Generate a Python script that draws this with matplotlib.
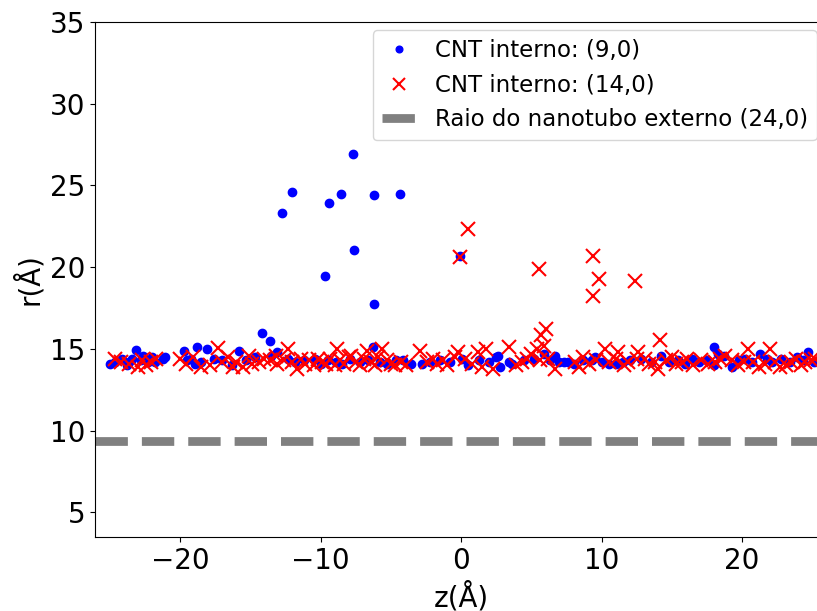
import matplotlib
matplotlib.use("Agg")
import matplotlib.pyplot as plt

# CNT interno (9,0)
z_9 = [-7.67, -12.03, -8.56, -6.19, -4.36, -9.37, -12.76, -7.59, -9.66, -6.19, -0.07,
       -14.2, -13.6, -6.3,
       -25.0, -24.6, -24.15, -23.8, -23.6, -23.4, -23.1, -22.8, -22.6, -22.3, -22.0,
       -21.8, -21.2, -21.1, -19.7, -19.5, -19.2, -18.9, -18.8, -18.5, -18.1, -17.6,
       -17.0, -16.3, -15.8, -15.3, -14.7, -13.5, -13.1, -12.3, -11.8, -11.2, -10.4,
       -10.0, -9.5, -8.9, -8.5, -7.9, -7.2, -6.6, -5.8, -5.3, -4.6, -4.1, -3.6, -2.8,
       -2.2, -1.5, -0.8, 0.1, 0.5, 1.3, 2.0, 2.5, 2.6, 2.8, 3.4, 3.6, 4.5, 5.2, 5.9,
       6.3, 6.7, 7.0, 7.3, 7.6, 8.0, 8.7, 9.3, 9.5, 10.0, 10.5, 11.0, 11.55, 12.0,
       12.8, 13.5, 14.2, 14.8, 15.4, 15.9, 16.4, 16.9, 17.5, 18.0, 18.3, 18.0, 18.7,
       19.3, 19.8, 20.2, 20.7, 21.3, 21.75, 22.1, 22.8, 23.4, 23.9, 24.3, 24.7, 25.1]
r_9 = [26.9, 24.57, 24.49, 24.41, 24.47, 23.93, 23.32, 21.06, 19.47, 17.77, 20.67,
       15.95, 15.47, 15.12,
       14.1, 14.2, 14.4, 14.0, 14.2, 14.4, 14.91, 14.3, 14.6, 14.2, 14.5,
       14.2, 14.36, 14.5, 14.87, 14.3, 14.4, 14.1, 15.12, 14.2, 14.98, 14.4,
       14.3, 14.0, 14.87, 14.3, 14.5, 14.6, 14.8, 14.4, 14.2, 14.3, 14.4,
       14.1, 14.3, 14.2, 14.1, 14.4, 14.2, 14.3, 14.2, 14.1, 14.3, 14.3, 14.1, 14.1,
       14.2, 14.3, 14.2, 14.4, 14.0, 14.3, 14.2, 14.5, 14.6, 13.9, 14.2, 14.1, 14.3, 14.4, 14.7,
       14.3, 14.6, 14.2, 14.2, 14.2, 14.1, 14.3, 14.3, 14.5, 14.2, 14.1, 14.1, 14.2, 14.3,
       14.4, 14.2, 14.6, 14.2, 14.3, 14.1, 14.4, 14.2, 14.3, 15.1, 14.7, 14.0, 14.6,
       13.9, 14.3, 14.4, 14.2, 14.7, 14.4, 14.2, 14.4, 14.2, 14.5, 14.3, 14.8, 14.2]

# CNT interno (14,0)
z_14 = [0.52, -0.07, 9.42, 5.53, 9.78, 12.38, 9.42, 6.03, 5.67, 14.16,
        -24.6, -24.2, -23.6, -23.0, -22.7, -22.4, -22.1, -21.7, -20.0, -19.6, -19.05,
        -18.5, -17.9, -17.3, -17.0, -16.6, -16.2, -16.0, -15.5, -15.1, -14.9, -14.4,
        -14.0, -13.6, -13.2, -13.1, -12.6, -12.3, -12.0, -11.7, -11.4, -11.1, -10.8,
        -10.5, -10.2, -9.9, -9.6, -9.3, -9.0, -8.85, -8.6, -8.3, -8.0, -7.8, -7.5,
        -7.2, -6.9, -6.7, -6.4, -6.1, -5.9, -5.6, -5.3, -5.0, -4.7, -4.3, -3.9, -2.9,
        -2.4, -2.0, -1.7, -1.3, -1.0, -0.4, -0.2, 0.3, 0.8, 1.2, 1.5, 1.8, 2.3, 3.4,
        3.9, 4.3, 4.7, 5.0, 5.4, 5.6, 5.9, 6.2, 6.7, 8.1, 8.4, 8.7, 9.1, 9.6, 10.25,
        10.5, 11.0, 11.2, 11.6, 11.9, 12.5, 12.6, 13.1, 13.4, 13.8, 14.0, 14.6, 15.0,
        15.3, 15.7, 16.1, 16.5, 17.1, 17.6, 18.1, 18.4, 18.8, 19.3, 19.7, 20.1, 20.45,
        20.8, 21.2, 21.6, 22.0, 22.35, 22.7, 23.1, 23.5, 23.8, 24.2, 24.5, 24.9, 25.2]
r_14 = [22.32, 20.63, 20.71, 19.88, 19.3, 19.16, 18.24, 16.2, 15.83, 15.53,
        14.4, 14.2, 14.1, 13.9, 14.3, 14.0, 14.2, 14.4, 14.4, 14.1, 14.5,
        13.9, 14.0, 15.06, 14.2, 14.5, 13.9, 14.2, 13.9, 14.6, 14.1, 14.2,
        14.4, 14.3, 14.6, 14.1, 14.3, 15.0, 14.2, 13.8, 14.4, 14.1, 14.3,
        14.0, 14.4, 14.2, 14.1, 14.4, 14.0, 15.0, 14.3, 14.1, 14.5, 14.6, 14.2,
        14.0, 14.4, 14.9, 14.2, 14.0, 14.5, 15.0, 14.3, 14.1, 14.0, 14.2, 14.0, 14.9,
        14.2, 14.4, 14.1, 14.3, 14.0, 14.5, 14.8, 14.4, 14.1, 14.8, 13.9, 15.0, 13.8, 15.1,
        14.0, 14.2, 14.4, 14.7, 15.0, 14.3, 15.2, 14.4, 13.8, 14.2, 13.9, 14.5, 14.1, 14.3, 15.0,
        14.2, 14.4, 14.8, 14.0, 14.2, 14.4, 14.8, 14.4, 14.1, 14.2, 13.8, 14.3, 14.5,
        14.1, 14.2, 14.4, 14.0, 14.3, 14.1, 14.2, 14.4, 14.6, 14.3, 14.0, 14.2, 15.0,
        14.2, 13.9, 14.1, 15.0, 14.2, 13.9, 14.0, 14.2, 14.4, 14.0, 14.2, 14.3, 14.4]

raio_externo = 9.39

fig = plt.figure(figsize=(8.17, 6.11), dpi=100)
ax = fig.add_axes([0.1163, 0.1211, 0.897, 0.843])

ax.plot(z_9, r_9, "o", color="blue", markersize=6, label="CNT interno: (9,0)")
ax.plot(z_14, r_14, "x", color="red", markersize=10, markeredgewidth=1.5,
        label="CNT interno: (14,0)")
ax.axhline(raio_externo, color="gray", linestyle="--", linewidth=6.3,
           label="Raio do nanotubo externo (24,0)")

ax.set_xlim(-26.05, 26.1)
ax.set_ylim(3.5, 35)
ax.set_yticks([5, 10, 15, 20, 25, 30, 35])
ax.set_xticks([-20, -10, 0, 10, 20])
ax.tick_params(labelsize=20)
ax.set_xlabel("z(Å)", fontsize=20, labelpad=5)
ax.set_ylabel("r(Å)", fontsize=20)

fig.legend(loc="upper right", bbox_to_anchor=(1.0, 0.951), fontsize=16.5,
           handlelength=1.5, borderaxespad=0, markerscale=0.8)

fig.savefig("out.png", dpi=100)
